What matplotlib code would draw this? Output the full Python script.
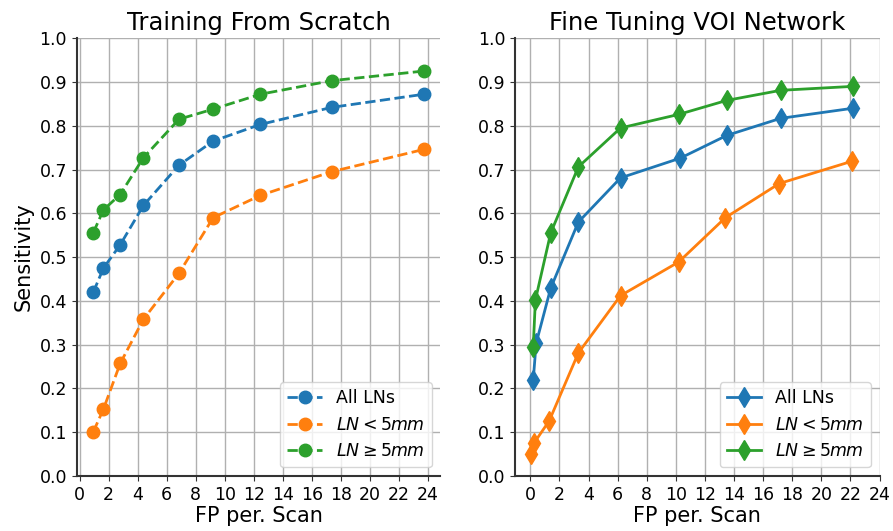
import numpy as np
import matplotlib.pyplot as plt

# Training from scratch (left panel)
fp_scratch = [0.95, 1.65, 2.8, 4.4, 6.85, 9.2, 12.45, 17.35, 23.7]
sens_all_scratch = [0.42, 0.475, 0.528, 0.618, 0.71, 0.765, 0.803, 0.842, 0.872]
sens_small_scratch = [0.101, 0.153, 0.257, 0.358, 0.463, 0.59, 0.641, 0.695, 0.746]
sens_large_scratch = [0.556, 0.608, 0.643, 0.727, 0.815, 0.838, 0.872, 0.903, 0.925]

# Fine tuning VOI network (right panel)
fp_all_ft = [0.2, 0.4, 1.4, 3.3, 6.2, 10.3, 13.5, 17.2, 22.15]
sens_all_ft = [0.219, 0.303, 0.429, 0.58, 0.681, 0.726, 0.778, 0.817, 0.84]
fp_small_ft = [0.07, 0.27, 1.3, 3.3, 6.2, 10.2, 13.4, 17.1, 22.1]
sens_small_ft = [0.05, 0.076, 0.126, 0.281, 0.412, 0.489, 0.59, 0.668, 0.719]
fp_large_ft = [0.2, 0.35, 1.4, 3.3, 6.2, 10.2, 13.5, 17.2, 22.15]
sens_large_ft = [0.295, 0.402, 0.555, 0.706, 0.795, 0.826, 0.858, 0.881, 0.89]

labels = ['All LNs', r'$LN < 5mm$', r'$LN \geq 5mm$']
colors = ['#1f77b4', '#ff7f0e', '#2ca02c']

fig = plt.figure(figsize=(8.93, 5.31), dpi=100)
ax1 = fig.add_axes([0.086, 0.1036, 0.407, 0.8244])
ax2 = fig.add_axes([0.577, 0.1036, 0.408, 0.8244])

# left: dashed lines with circles
for y, lab, c in zip([sens_all_scratch, sens_small_scratch, sens_large_scratch], labels, colors):
    ax1.plot(fp_scratch, y, '--o', color=c, label=lab, markersize=9, linewidth=2)

# right: solid lines with diamonds
for x, y, lab, c in zip([fp_all_ft, fp_small_ft, fp_large_ft],
                        [sens_all_ft, sens_small_ft, sens_large_ft], labels, colors):
    ax2.plot(x, y, '-d', color=c, label=lab, markersize=10, linewidth=2)

for ax, title in [(ax1, 'Training From Scratch'), (ax2, 'Fine Tuning VOI Network')]:
    ax.set_title(title, fontsize=17.5)
    ax.set_xticks(np.arange(0, 25, 2))
    ax.set_yticks(np.arange(0, 1.01, 0.1))
    ax.set_ylim(0, 1.0)
    ax.set_xlabel('FP per. Scan', fontsize=15, labelpad=2)
    ax.tick_params(labelsize=12.5, color='#333333')
    ax.grid(True, color='#b0b0b0', linewidth=1)
    ax.spines['top'].set_visible(False)
    ax.spines['right'].set_visible(False)
    for s in ['left', 'bottom']:
        ax.spines[s].set_linewidth(1.5)
        ax.spines[s].set_color('#333333')
    ax.legend(loc='lower right', fontsize=12.5)

ax1.set_ylabel('Sensitivity', fontsize=15)

fig.savefig('out.png', dpi=100)
